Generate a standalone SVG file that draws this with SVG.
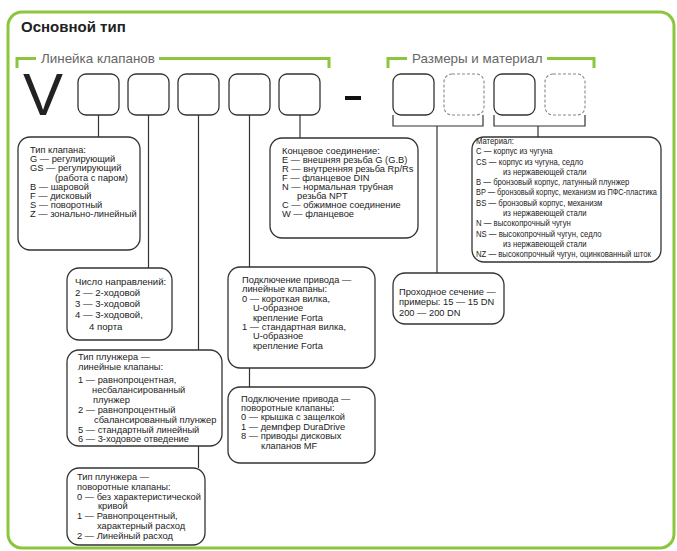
<svg xmlns="http://www.w3.org/2000/svg" width="677" height="551" viewBox="0 0 677 551">
<style>
.frame{fill:none;stroke:#8cc63f;stroke-width:3}
.br{fill:none;stroke:#8cc63f;stroke-width:3}
.sq{fill:#fff;stroke:#333;stroke-width:1.3}
.sqd{fill:#fff;stroke:#888;stroke-width:1.1;stroke-dasharray:3 2}
.box{fill:#fff;stroke:#333;stroke-width:1.3}
.ln{fill:none;stroke:#333;stroke-width:1.2}
text{font-family:"Liberation Sans",Arial,sans-serif;fill:#222}
.t{font-size:9.3px}
.t10{font-size:9.6px}
.lbl{font-size:13.4px;fill:#666}
</style>
<rect class="frame" x="8" y="12" width="666" height="536" rx="14"/>
<text x="21" y="32" style="font-size:15px;font-weight:bold">Основной тип</text>
<g id="bracket-line">
<path class="br" d="M17,68 V58.5 H36 M159,58.5 H329 V68"/>
<text class="lbl" x="41" y="62.5">Линейка клапанов</text>
</g>
<g id="bracket-size">
<path class="br" d="M388,68 V58.5 H407 M547,58.5 H594 V68"/>
<text class="lbl" x="412" y="62.5">Размеры и материал</text>
</g>
<g id="code">
<text x="23" y="115" style="font-size:60px">V</text>
<rect class="sq" x="78" y="74" width="41" height="41" rx="8"/>
<rect class="sq" x="128" y="74" width="41" height="41" rx="8"/>
<rect class="sq" x="178" y="74" width="41" height="41" rx="8"/>
<rect class="sq" x="229" y="74" width="41" height="41" rx="8"/>
<rect class="sq" x="279" y="74" width="41" height="41" rx="8"/>
<rect x="345" y="96" width="16" height="4" fill="#111"/>
<rect class="sq" x="393" y="74" width="41" height="41" rx="8"/>
<rect class="sqd" x="444" y="74" width="40" height="41" rx="8"/>
<rect class="sq" x="494" y="74" width="41" height="41" rx="8"/>
<rect class="sqd" x="545" y="74" width="40" height="41" rx="8"/>
</g>
<g id="connectors">
<path class="ln" d="M98.5,115 V137"/>
<path class="ln" d="M148.5,115 V268"/>
<path class="ln" d="M198.5,115 V350 M198.5,446 V468"/>
<path class="ln" d="M249.5,115 V267 M249.5,368 V387"/>
<path class="ln" d="M300,115 V138"/>
<path class="ln" d="M393,115 V126 H483 V115 M437,126 V273"/>
<path class="ln" d="M494,115 V126 H585 V115 M538,126 V137"/>
</g>
<g id="valve-type">
<rect class="box" x="18" y="137" width="122" height="113" rx="12"/>
<text class="t" x="30" y="153">Тип клапана:</text>
<text class="t" x="30" y="162.2">G — регулирующий</text>
<text class="t" x="30" y="171.4">GS — регулирующий</text>
<text class="t" x="55" y="180.6">(работа с паром)</text>
<text class="t" x="30" y="189.8">B — шаровой</text>
<text class="t" x="30" y="199">F — дисковый</text>
<text class="t" x="30" y="208.2">S — поворотный</text>
<text class="t" x="30" y="217.4">Z — зонально-линейный</text>
</g>
<g id="ways">
<rect class="box" x="67" y="268" width="105" height="72" rx="12"/>
<text class="t10" x="75" y="284.5">Число направлений:</text>
<text class="t10" x="75" y="295.6">2 — 2-ходовой</text>
<text class="t10" x="75" y="306.7">3 — 3-ходовой</text>
<text class="t10" x="75" y="318">4 — 3-ходовой,</text>
<text class="t10" x="89" y="329.5">4 порта</text>
</g>
<g id="plug-linear">
<rect class="box" x="67" y="350" width="155" height="96" rx="12"/>
<text class="t" x="78" y="359.5">Тип плунжера —</text>
<text class="t" x="78" y="369.5">линейные клапаны:</text>
<text class="t" x="78" y="382.5">1 — равнопроцентная,</text>
<text class="t" x="92" y="392.5">несбалансированный</text>
<text class="t" x="93" y="402.5">плунжер</text>
<text class="t" x="78" y="413">2 — равнопроцентный</text>
<text class="t" x="94" y="423">сбалансированный плунжер</text>
<text class="t" x="78" y="432.5">5 — стандартный линейный</text>
<text class="t" x="78" y="442">6 — 3-ходовое отведение</text>
</g>
<g id="plug-rotary">
<rect class="box" x="67" y="468" width="138" height="77" rx="12"/>
<text class="t" x="77" y="480">Тип плунжера —</text>
<text class="t" x="77" y="489.8">поворотные клапаны:</text>
<text class="t" x="77" y="499.6">0 — без характеристической</text>
<text class="t" x="98" y="509.4">кривой</text>
<text class="t" x="77" y="519.2">1 — Равнопроцентный,</text>
<text class="t" x="97" y="529">характерный расход</text>
<text class="t" x="77" y="538.8">2 — Линейный расход</text>
</g>
<g id="end-connection">
<rect class="box" x="270" y="138" width="148" height="100" rx="12"/>
<text class="t" x="282" y="153.5">Концевое соединение:</text>
<text class="t" x="282" y="162.6">E — внешняя резьба G (G.B)</text>
<text class="t" x="282" y="171.7">R — внутренняя резьба Rp/Rs</text>
<text class="t" x="282" y="180.8">F — фланцевое DIN</text>
<text class="t" x="282" y="189.9">N — нормальная трубная</text>
<text class="t" x="297" y="199">резьба NPT</text>
<text class="t" x="282" y="208.1">C — обжимное соединение</text>
<text class="t" x="282" y="217.2">W — фланцевое</text>
</g>
<g id="actuator-linear">
<rect class="box" x="228" y="267" width="147" height="101" rx="12"/>
<text class="t" x="242" y="283">Подключение привода —</text>
<text class="t" x="242" y="292.4">линейные клапаны:</text>
<text class="t" x="242" y="301.8">0 — короткая вилка,</text>
<text class="t" x="253" y="311.2">U-образное</text>
<text class="t" x="253" y="320.6">крепление Forta</text>
<text class="t" x="242" y="330">1 — стандартная вилка,</text>
<text class="t" x="253" y="339.4">U-образное</text>
<text class="t" x="253" y="348.8">крепление Forta</text>
</g>
<g id="actuator-rotary">
<rect class="box" x="228" y="387" width="147" height="76" rx="12"/>
<text class="t" x="241" y="401.5">Подключение привода —</text>
<text class="t" x="241" y="410.9">поворотные клапаны:</text>
<text class="t" x="241" y="420.3">0 — крышка с защелкой</text>
<text class="t" x="241" y="429.7">1 — демпфер DuraDrive</text>
<text class="t" x="241" y="439.1">8 — приводы дисковых</text>
<text class="t" x="261" y="448.5">клапанов MF</text>
</g>
<g id="size">
<rect class="box" x="393" y="273" width="111" height="51" rx="12"/>
<text class="t" x="399" y="294.5">Проходное сечение —</text>
<text class="t" x="399" y="305">примеры: 15 — 15 DN</text>
<text class="t" x="399" y="316">200 — 200 DN</text>
</g>
<g id="material">
<rect class="box" x="472" y="137" width="189" height="125" rx="12"/>
<g transform="translate(476 0) scale(0.83 1)">
<text class="t" x="0" y="144">Материал:</text>
<text class="t" x="0" y="154.3">C — корпус из чугуна</text>
<text class="t" x="0" y="164.6">CS — корпус из чугуна, седло</text>
<text class="t" x="32.5" y="174.9">из нержавеющей стали</text>
<text class="t" x="0" y="185.2">B — бронзовый корпус, латунный плунжер</text>
<text class="t" x="0" y="195.5" textLength="218" lengthAdjust="spacingAndGlyphs">BP — бронзовый корпус, механизм из ПФС-пластика</text>
<text class="t" x="0" y="205.8">BS — бронзовый корпус, механизм</text>
<text class="t" x="32.5" y="216.1">из нержавеющей стали</text>
<text class="t" x="0" y="226.4">N — высокопрочный чугун</text>
<text class="t" x="0" y="236.7">NS — высокопрочный чугун, седло</text>
<text class="t" x="32.5" y="247">из нержавеющей стали</text>
<text class="t" x="0" y="257.3">NZ — высокопрочный чугун, оцинкованный шток</text>
</g>
</g>
</svg>
